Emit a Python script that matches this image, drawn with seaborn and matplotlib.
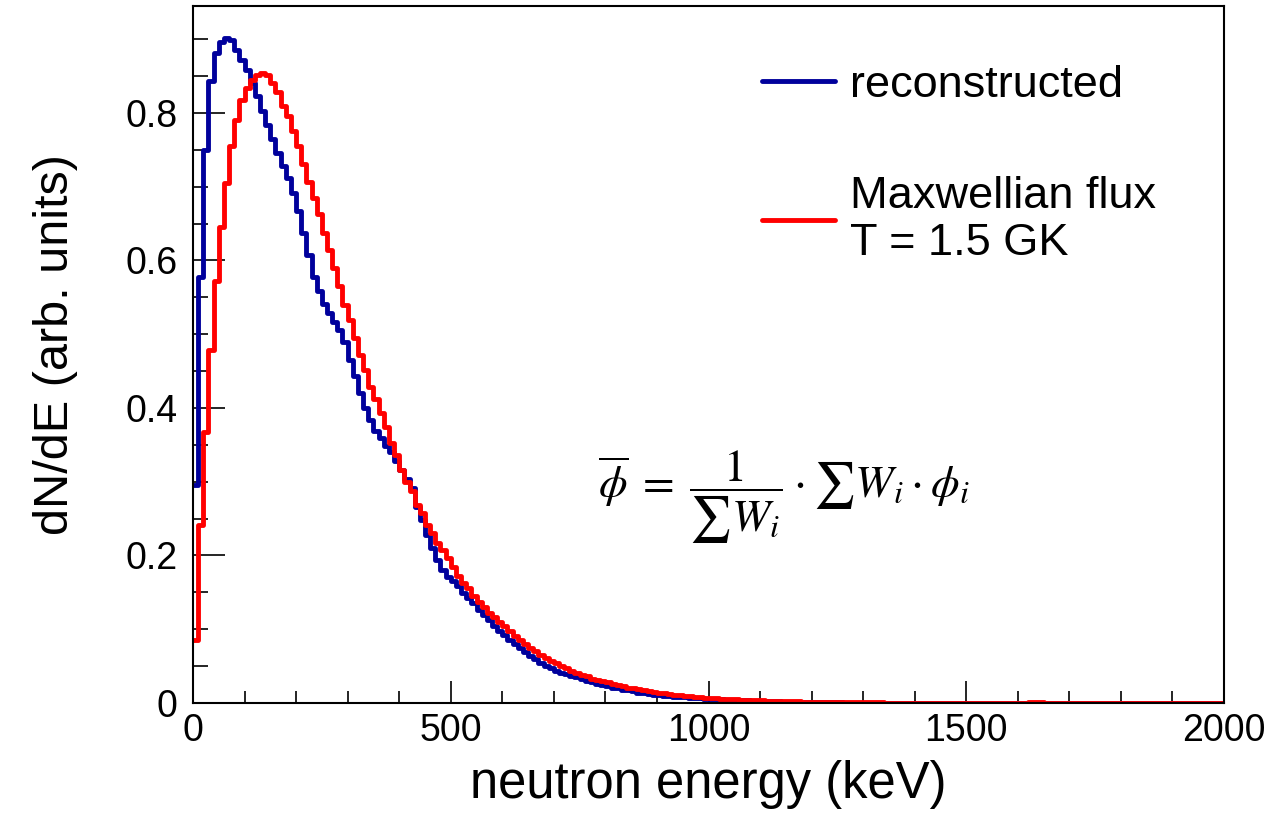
import numpy as np
import pandas as pd
import matplotlib
matplotlib.use("Agg")
import matplotlib.pyplot as plt
import seaborn as sns
from matplotlib.lines import Line2D
from matplotlib.ticker import MultipleLocator, FuncFormatter

# 10 keV bins from 0 to 2000 keV
bin_width_kev = 10
energy_range_kev = (0, 2000)
bin_centers_kev = np.arange(5, 2000, bin_width_kev)

# reconstructed neutron spectrum, dN/dE per bin
reconstructed = [
    0.296, 0.578, 0.750, 0.843, 0.881, 0.896, 0.902, 0.899, 0.886, 0.872,
    0.858, 0.840, 0.823, 0.802, 0.784, 0.764, 0.746, 0.728, 0.712, 0.692,
    0.667, 0.637, 0.607, 0.578, 0.558, 0.541, 0.529, 0.517, 0.506, 0.489,
    0.465, 0.443, 0.420, 0.400, 0.384, 0.369, 0.359, 0.349, 0.340, 0.328,
    0.316, 0.304, 0.291, 0.266, 0.248, 0.228, 0.210, 0.194, 0.180, 0.171,
    0.165, 0.158, 0.149, 0.142, 0.135, 0.126, 0.119, 0.112, 0.105, 0.098,
    0.092, 0.086, 0.080, 0.074, 0.069, 0.064, 0.059, 0.054, 0.050, 0.047,
    0.044, 0.041, 0.039, 0.037, 0.035, 0.032, 0.030, 0.028, 0.026, 0.024,
    0.023, 0.021, 0.020, 0.018, 0.017, 0.016, 0.014, 0.013, 0.012, 0.0115,
    0.011, 0.010, 0.009, 0.0085, 0.008, 0.0075, 0.007, 0.0066, 0.0062, 0.0059,
    0.0055, 0.0052, 0.0049, 0.0046, 0.0043, 0.0040, 0.0037, 0.0035, 0.0032, 0.0030,
    0.0028, 0.0026, 0.0024, 0.0022, 0.0020, 0.0019, 0.0017, 0.0016, 0.0015, 0.0013,
    0.0012, 0.0011, 0.0010, 0.0009, 0.0008, 0.0007, 0.0006, 0.0005, 0.0004, 0.0003,
    0.0, 0.0, 0.0, 0.0, 0.0, 0.0, 0.0, 0.0, 0.0, 0.0,
    0.0, 0.0, 0.0, 0.0, 0.0, 0.0, 0.0, 0.0, 0.0, 0.0,
    0.0, 0.0, 0.0, 0.0, 0.0, 0.0, 0.0, 0.0, 0.0, 0.0,
    0.0, 0.0, 0.0, 0.0, 0.0, 0.0, 0.0, 0.0, 0.0, 0.0,
    0.0, 0.0, 0.0, 0.0, 0.0, 0.0, 0.0, 0.0, 0.0, 0.0,
    0.0, 0.0, 0.0, 0.0, 0.0, 0.0, 0.0, 0.0, 0.0, 0.0,
    0.0, 0.0, 0.0, 0.0, 0.0, 0.0, 0.0, 0.0, 0.0, 0.0,
]

# Maxwellian neutron flux at T = 1.5 GK, same binning
maxwellian = [
    0.085, 0.2415, 0.368, 0.479, 0.572, 0.646, 0.705, 0.755, 0.791, 0.818,
    0.834, 0.845, 0.852, 0.854, 0.851, 0.840, 0.828, 0.810, 0.7955, 0.776,
    0.755, 0.731, 0.707, 0.685, 0.6635, 0.637, 0.614, 0.590, 0.565, 0.540,
    0.519, 0.495, 0.472, 0.452, 0.429, 0.412, 0.393, 0.374, 0.352, 0.3365,
    0.316, 0.300, 0.287, 0.268, 0.257, 0.241, 0.230, 0.217, 0.2076, 0.197,
    0.185, 0.1723, 0.163, 0.1556, 0.1456, 0.1375, 0.130, 0.1225, 0.1163, 0.110,
    0.104, 0.097, 0.091, 0.085, 0.080, 0.075, 0.070, 0.065, 0.061, 0.057,
    0.054, 0.050, 0.047, 0.044, 0.041, 0.038, 0.036, 0.033, 0.031, 0.030,
    0.028, 0.026, 0.024, 0.023, 0.021, 0.020, 0.019, 0.0175, 0.016, 0.015,
    0.014, 0.013, 0.012, 0.011, 0.0105, 0.0097, 0.009, 0.0084, 0.0078, 0.0073,
    0.0068, 0.0064, 0.0060, 0.0056, 0.0052, 0.0049, 0.0046, 0.0043, 0.0040, 0.0037,
    0.0035, 0.0032, 0.0030, 0.0028, 0.0026, 0.0024, 0.0023, 0.0021, 0.0020, 0.0018,
    0.0017, 0.0016, 0.0015, 0.0014, 0.0013, 0.0012, 0.0011, 0.0010, 0.0009, 0.0009,
    0.0008, 0.0008, 0.0007, 0.0007, 0.0006, 0.0006, 0.0005, 0.0005, 0.0005, 0.0004,
    0.0004, 0.0004, 0.0003, 0.0003, 0.0003, 0.0003, 0.0003, 0.0002, 0.0002, 0.0002,
    0.0002, 0.0002, 0.0002, 0.0002, 0.0002, 0.0001, 0.0001, 0.0001, 0.0001, 0.0001,
    0.0001, 0.0001, 0.0010, 0.0010, 0.0010, 0.0001, 0.0001, 0.0001, 0.0001, 0.0001,
    0.0001, 0.0001, 0.0001, 0.0001, 0.0001, 0.0001, 0.0001, 0.0001, 0.0001, 0.0001,
    0.0, 0.0, 0.0, 0.0, 0.0, 0.0, 0.0, 0.0, 0.0, 0.0,
    0.0, 0.0, 0.0, 0.0, 0.0, 0.0, 0.0, 0.0, 0.0, 0.0,
]

x_ticks = [0, 500, 1000, 1500, 2000]
y_ticks = [0, 0.2, 0.4, 0.6, 0.8]

series_labels = ["reconstructed", "Maxwellian flux\nT = 1.5 GK"]
series_colors = ["#00009c", "#ff0000"]

sns.set_theme(style="white")
plt.rcParams["font.family"] = ["Liberation Sans", "DejaVu Sans"]
plt.rcParams["mathtext.fontset"] = "stix"
plt.rcParams["text.color"] = "black"
plt.rcParams["axes.labelcolor"] = "black"
plt.rcParams["xtick.color"] = "black"
plt.rcParams["ytick.color"] = "black"

df = pd.DataFrame({
    "energy": bin_centers_kev,
    "reconstructed": reconstructed,
    "maxwellian": maxwellian,
})

fig = plt.figure(figsize=(12.78, 8.15), dpi=100)
ax = fig.add_axes([193 / 1278, (815 - 703) / 815, (1224 - 193) / 1278, (703 - 6) / 815])

line_w = 3.5
sns.histplot(data=df, x="energy", weights="reconstructed",
             binwidth=bin_width_kev, binrange=energy_range_kev,
             element="step", fill=False, color=series_colors[0],
             linewidth=line_w, ax=ax, zorder=3)
sns.histplot(data=df, x="energy", weights="maxwellian",
             binwidth=bin_width_kev, binrange=energy_range_kev,
             element="step", fill=False, color=series_colors[1],
             linewidth=line_w, ax=ax, zorder=4)

ax.set_xlim(*energy_range_kev)
ax.set_ylim(0, 0.945)

# ROOT-like frame and inward ticks on the left and bottom axes
for side in ["left", "right", "top", "bottom"]:
    ax.spines[side].set_visible(True)
    ax.spines[side].set_color("black")
    ax.spines[side].set_linewidth(1.5)
    ax.spines[side].set_zorder(5)

ax.set_xticks(x_ticks)
ax.set_yticks(y_ticks)
ax.xaxis.set_minor_locator(MultipleLocator(100))
ax.yaxis.set_minor_locator(MultipleLocator(0.05))
ax.yaxis.set_major_formatter(FuncFormatter(lambda v, p: "0" if abs(v) < 1e-9 else f"{v:.1f}"))
ax.xaxis.set_major_formatter(FuncFormatter(lambda v, p: f"{v:.0f}"))

ax.tick_params(axis="both", which="both", direction="in", color="black",
               labelcolor="black", width=1.2, bottom=True, left=True,
               top=False, right=False, labelsize=27)
ax.tick_params(axis="x", which="major", length=16, pad=7)
ax.tick_params(axis="x", which="minor", length=8.5)
ax.tick_params(axis="y", which="major", length=23, pad=11)
ax.tick_params(axis="y", which="minor", length=11)

ax.set_xlabel("neutron energy (keV)", fontsize=36.5, color="black")
ax.set_ylabel("dN/dE (arb. units)", fontsize=35, color="black")
ax.xaxis.set_label_coords(0.5, -0.082)
ax.yaxis.set_label_coords(-0.112, 0.514)

handles = [Line2D([], [], color=c, linewidth=line_w) for c in series_colors]
leg = ax.legend(handles, series_labels, loc="upper left",
                bbox_to_anchor=(0.552, 0.916), frameon=False, fontsize=32.5,
                borderpad=0, borderaxespad=0, handlelength=1.62,
                handletextpad=0.33, labelspacing=1.55)
for t in leg.get_texts():
    t.set_color("black")

ax.text(0.573, 0.2956,
        r"$\overline{\phi}\; = \;\dfrac{1}{\sum W_i} \cdot \sum W_i \cdot \phi_i$",
        transform=ax.transAxes, ha="center", va="center", fontsize=33,
        color="black")

fig.savefig("out.png", dpi=100)
